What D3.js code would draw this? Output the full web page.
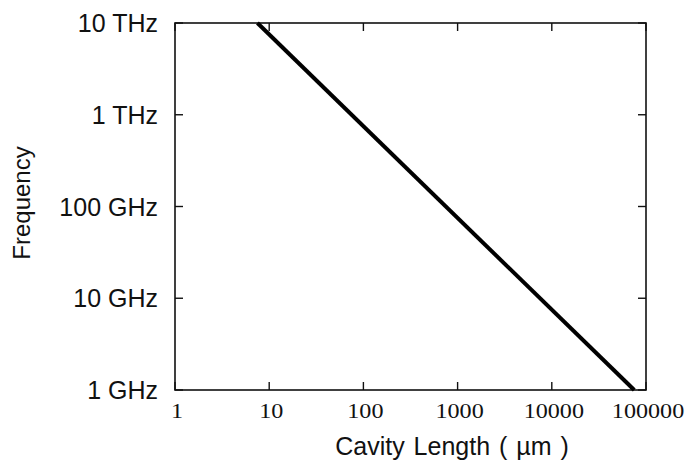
<!DOCTYPE html>
<html>
<head>
<meta charset="utf-8">
<script src="https://cdn.jsdelivr.net/npm/d3@7"></script>
<style>
  body { margin: 0; background: #fff; }
  svg { display: block; }
</style>
</head>
<body>
<div id="chart"></div>
<script>
// cavity length (um) vs mode spacing frequency (Hz)
const cavityLength = [7.5, 75000];
const frequency = [1e13, 1e9];

const xTicks = [1, 10, 100, 1000, 10000, 100000];
const xTickLabels = ['1', '10', '100', '1000', '10000', '100000'];
const yTicks = [1e9, 1e10, 1e11, 1e12, 1e13];
const yTickLabels = ['1 GHz', '10 GHz', '100 GHz', '1 THz', '10 THz'];

const width = 690, height = 462;
const margin = {top: 23, right: 44, bottom: 72, left: 175};

const svg = d3.select('#chart').append('svg')
  .attr('width', width).attr('height', height);

const x = d3.scaleLog().domain([1, 100000]).range([margin.left, width - margin.right]);
const y = d3.scaleLog().domain([1e9, 1e13]).range([height - margin.bottom, margin.top]);

const tickLen = 8;
const sans = 'Liberation Sans, Arial, sans-serif';
const serif = 'Liberation Serif, Times New Roman, serif';

// inward ticks on all four sides
const g = svg.append('g').attr('stroke', '#111').attr('stroke-width', 1.4);
g.selectAll('.tb').data(xTicks).join('line')
  .attr('x1', d => x(d)).attr('x2', d => x(d))
  .attr('y1', y.range()[0]).attr('y2', y.range()[0] - tickLen);
g.selectAll('.tt').data(xTicks).join('line')
  .attr('x1', d => x(d)).attr('x2', d => x(d))
  .attr('y1', y.range()[1]).attr('y2', y.range()[1] + tickLen);
g.selectAll('.tl').data(yTicks).join('line')
  .attr('y1', d => y(d)).attr('y2', d => y(d))
  .attr('x1', x.range()[0]).attr('x2', x.range()[0] + tickLen);
g.selectAll('.tr').data(yTicks).join('line')
  .attr('y1', d => y(d)).attr('y2', d => y(d))
  .attr('x1', x.range()[1]).attr('x2', x.range()[1] - tickLen);

// frame
svg.append('rect')
  .attr('x', x.range()[0]).attr('y', y.range()[1])
  .attr('width', x.range()[1] - x.range()[0])
  .attr('height', y.range()[0] - y.range()[1])
  .attr('fill', 'none').attr('stroke', '#111').attr('stroke-width', 1.6);

// the line
const line = d3.line().x(d => x(d[0])).y(d => y(d[1]));
svg.append('path')
  .datum(d3.zip(cavityLength, frequency))
  .attr('d', line)
  .attr('fill', 'none').attr('stroke', '#000').attr('stroke-width', 4);

// x tick labels (serif, slightly wide like the scan)
svg.selectAll('.xl').data(xTicks).join('text')
  .attr('transform', d => `translate(${x(d) + 2},418) scale(1.15,1)`)
  .attr('text-anchor', 'middle')
  .attr('font-family', serif).attr('font-size', 21).attr('fill', '#111')
  .text((d, i) => xTickLabels[i]);

// y tick labels
svg.selectAll('.yl').data(yTicks).join('text')
  .attr('x', x.range()[0] - 17).attr('y', d => y(d) + 9)
  .attr('text-anchor', 'end')
  .attr('font-family', sans).attr('font-size', 25).attr('fill', '#111')
  .text((d, i) => yTickLabels[i]);

// axis titles
svg.append('text')
  .attr('x', 452).attr('y', 455)
  .attr('text-anchor', 'middle')
  .attr('font-family', sans).attr('font-size', 25).attr('fill', '#111')
  .attr('word-spacing', 2)
  .text('Cavity Length ( \u00b5m )');

svg.append('text')
  .attr('transform', 'translate(30,203) rotate(-90)')
  .attr('text-anchor', 'middle')
  .attr('font-family', sans).attr('font-size', 24).attr('fill', '#111')
  .text('Frequency');
</script>
</body>
</html>
